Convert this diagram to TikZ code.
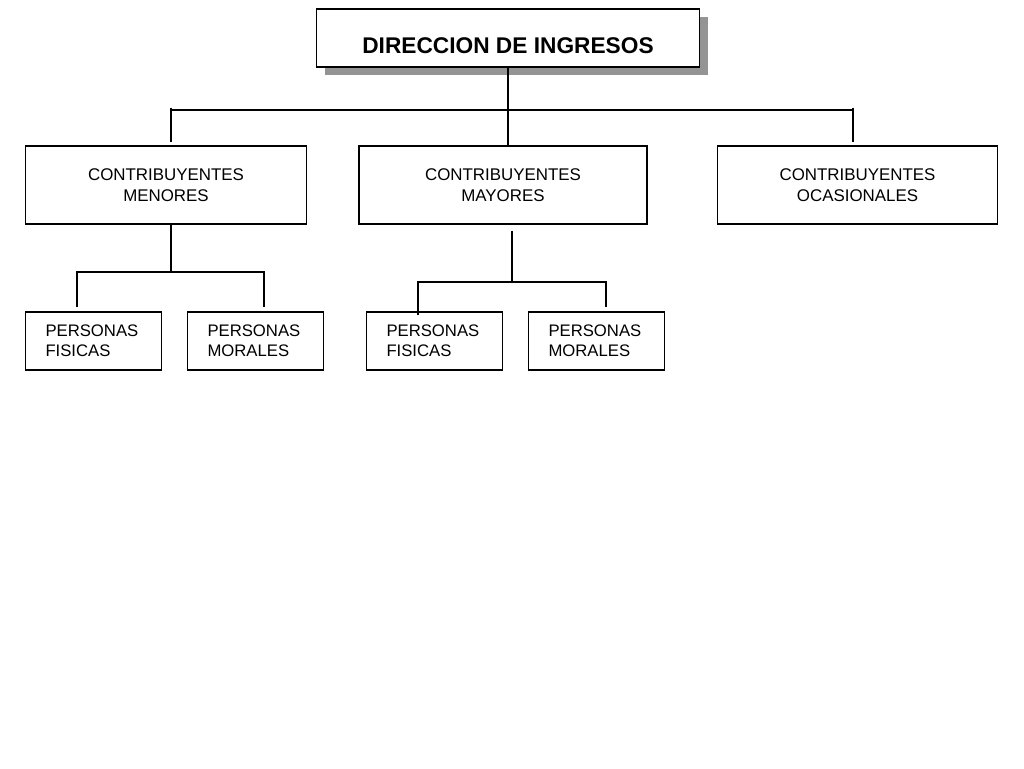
\documentclass[tikz,border=0pt]{standalone}
\usepackage{fontspec}
\setmainfont{Liberation Sans}
\usetikzlibrary{shadows}

\begin{document}
\begin{tikzpicture}[x=1pt,y=-1pt,
    conn/.style={line width=1.9pt},
    titlebox/.style={draw,line width=1.8pt,fill=white,minimum width=383pt,minimum height=58pt,
        inner sep=0pt,text height=30.3pt,text depth=0pt,
        font=\fontsize{22.7}{26}\selectfont\bfseries,
        drop shadow={shadow xshift=8pt,shadow yshift=-8pt,fill=black!42,opacity=1}},
    groupbox/.style={draw,line width=1.8pt,minimum height=78pt,inner sep=0pt,align=center,
        font=\fontsize{16.9}{21}\selectfont},
    personbox/.style={draw,line width=1.8pt,minimum height=58pt,inner xsep=20pt,inner ysep=0pt,
        text width=96pt,align=left,font=\fontsize{16.7}{20}\selectfont}
    ]
    \useasboundingbox (0,0) rectangle (1024,768);

    \node[titlebox] (title) at (508,38) {DIRECCION DE INGRESOS};

    \node[groupbox,minimum width=281pt] (menores) at (166,185) {CONTRIBUYENTES\\MENORES};
    \node[groupbox,minimum width=288pt] (mayores) at (503,185) {CONTRIBUYENTES\\MAYORES};
    \node[groupbox,minimum width=280pt] (ocasionales) at (857.5,185) {CONTRIBUYENTES\\OCASIONALES};

    \node[personbox] (fisicasA) at (93.5,341) {PERSONAS\\FISICAS};
    \node[personbox] (moralesA) at (255.5,341) {PERSONAS\\MORALES};
    \node[personbox] (fisicasB) at (434.5,341) {PERSONAS\\FISICAS};
    \node[personbox] (moralesB) at (596.5,341) {PERSONAS\\MORALES};

    \coordinate (barL) at (171,110);
    \coordinate (barR) at (853,110);
    \coordinate (tickL) at (171,107.5);
    \coordinate (tickR) at (853,107.5);
    \coordinate (dropL) at (171,142);
    \coordinate (dropR) at (853,142);

    \coordinate (forkA) at (171,272);
    \coordinate (forkAl) at (77,272);
    \coordinate (forkAr) at (264,272);
    \coordinate (tipAl) at (77,306.7);
    \coordinate (tipAr) at (264,306.7);

    \coordinate (startB) at (512,230.5);
    \coordinate (forkB) at (512,281.7);
    \coordinate (forkBl) at (418,281.7);
    \coordinate (forkBr) at (606,281.7);
    \coordinate (tipBl) at (418,315);
    \coordinate (tipBr) at (606,306.7);

    \draw[conn] (title.south) -- (title.south |- mayores.north);
    \draw[conn] (barL) -- (barR);
    \draw[conn] (tickL) -- (dropL);
    \draw[conn] (tickR) -- (dropR);

    \draw[conn] (forkA |- menores.south) -- (forkA);
    \draw[conn] (tipAl) -- (forkAl) -- (forkAr) -- (tipAr);

    \draw[conn] (startB) -- (forkB);
    \draw[conn] (tipBl) -- (forkBl) -- (forkBr) -- (tipBr);

\end{tikzpicture}
\end{document}
